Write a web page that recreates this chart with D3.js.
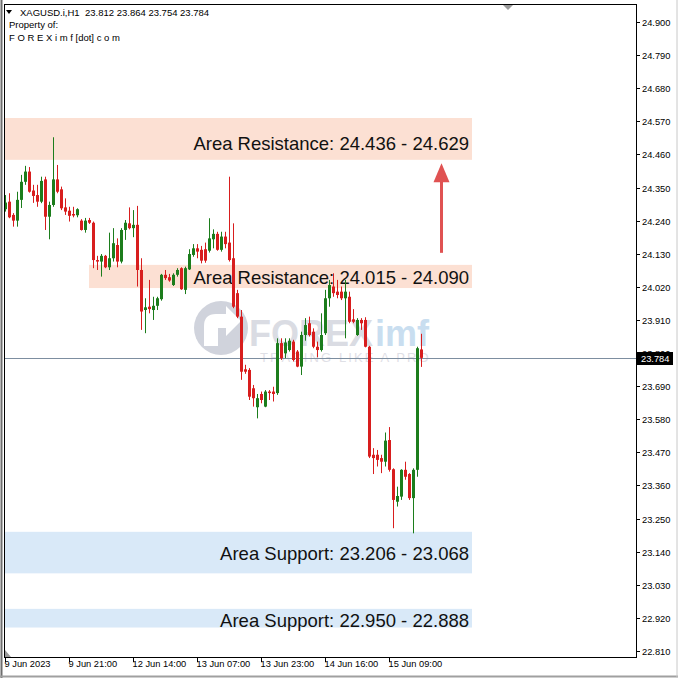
<!DOCTYPE html>
<html><head><meta charset="utf-8">
<script src="https://cdn.jsdelivr.net/npm/d3@7"></script>
<style>html,body{margin:0;padding:0;background:#fff;}svg{display:block;}</style>
</head><body>
<svg id="c" width="678" height="678"></svg>
<script>
// ---------- DATA ----------
const symbolName = "XAGUSD.i,H1";
const headerOHLC = "23.812 23.864 23.754 23.784";
const opens = [24.278,24.303,24.259,24.240,24.309,24.369,24.403,24.340,24.325,24.303,24.377,24.253,24.292,24.377,24.344,24.284,24.273,24.262,24.258,24.240,24.209,24.242,24.233,24.109,24.104,24.123,24.085,24.115,24.159,24.104,24.209,24.231,24.215,24.226,24.076,23.943,23.954,23.943,23.957,23.979,24.060,24.052,24.026,24.060,24.082,24.010,24.078,24.126,24.148,24.143,24.145,24.140,24.178,24.196,24.143,24.187,24.167,24.115,23.999,23.921,23.746,23.744,23.683,23.620,23.664,23.622,23.672,23.672,23.667,23.833,23.799,23.810,23.838,23.805,23.755,23.860,23.899,23.871,23.821,23.810,23.866,23.982,24.021,24.004,24.004,23.982,23.987,23.912,23.860,23.910,23.910,23.821,23.462,23.462,23.451,23.439,23.511,23.414,23.306,23.323,23.412,23.398,23.318,23.412,23.812];
const highs = [24.325,24.331,24.265,24.336,24.392,24.422,24.418,24.359,24.359,24.386,24.386,24.303,24.517,24.425,24.353,24.314,24.286,24.286,24.281,24.245,24.249,24.249,24.237,24.123,24.129,24.126,24.200,24.215,24.181,24.215,24.242,24.284,24.275,24.289,24.115,23.982,24.043,23.987,23.987,24.063,24.076,24.063,24.065,24.082,24.085,24.087,24.145,24.162,24.162,24.156,24.167,24.248,24.211,24.203,24.203,24.203,24.386,24.231,24.010,23.943,23.761,23.750,23.694,23.664,23.672,23.677,23.677,23.688,23.849,23.849,23.849,23.849,23.844,23.810,23.871,23.916,23.921,23.882,23.838,23.932,24.010,24.043,24.065,24.043,24.021,24.043,24.004,23.946,23.916,23.916,23.919,23.824,23.484,23.478,23.462,23.536,23.554,23.417,23.356,23.414,23.439,23.401,23.417,23.821,23.864];
const lows = [24.270,24.248,24.220,24.220,24.282,24.359,24.333,24.299,24.286,24.298,24.209,24.178,24.286,24.331,24.275,24.259,24.237,24.251,24.251,24.207,24.200,24.229,24.082,24.076,24.054,24.082,24.076,24.104,24.085,24.098,24.176,24.211,24.185,24.021,23.877,23.866,23.932,23.910,23.943,23.974,24.043,24.037,24.023,24.054,24.010,23.996,24.076,24.120,24.115,24.098,24.100,24.134,24.148,24.140,24.137,24.148,24.104,23.949,23.916,23.711,23.731,23.644,23.622,23.583,23.633,23.620,23.644,23.639,23.661,23.777,23.783,23.805,23.772,23.753,23.727,23.841,23.855,23.816,23.786,23.805,23.860,23.954,23.987,23.982,23.976,23.849,23.899,23.899,23.857,23.877,23.819,23.451,23.398,23.423,23.401,23.423,23.406,23.218,23.290,23.312,23.379,23.312,23.201,23.389,23.754];
const closes = [24.300,24.251,24.240,24.309,24.369,24.403,24.336,24.322,24.303,24.372,24.253,24.292,24.377,24.336,24.281,24.270,24.256,24.257,24.278,24.209,24.240,24.233,24.109,24.104,24.123,24.085,24.115,24.165,24.104,24.209,24.233,24.215,24.226,24.076,23.938,23.952,23.946,23.957,23.982,24.060,24.049,24.041,24.060,24.076,24.012,24.082,24.129,24.148,24.137,24.107,24.107,24.181,24.196,24.143,24.187,24.162,24.109,23.954,23.921,23.738,23.738,23.655,23.650,23.650,23.644,23.672,23.667,23.664,23.833,23.783,23.835,23.841,23.777,23.755,23.860,23.893,23.860,23.821,23.810,23.860,23.982,24.026,23.999,23.993,23.982,24.004,23.904,23.904,23.910,23.899,23.821,23.456,23.451,23.445,23.439,23.509,23.412,23.312,23.325,23.412,23.389,23.318,23.412,23.816,23.784];
const timeLabels = ["9 Jun 2023","9 Jun 21:00","12 Jun 14:00","13 Jun 07:00","13 Jun 23:00","14 Jun 16:00","15 Jun 09:00"];
const timeLabelBars = [0,16,32,48,64,80,96];
const priceTicks = ["24.900","24.790","24.680","24.570","24.460","24.350","24.240","24.130","24.020","23.910","23.800","23.690","23.580","23.470","23.360","23.250","23.140","23.030","22.920","22.810"];
const lastPrice = 23.784;
// zones: label, price top, price bottom, start bar, end bar, kind
const zoneLabels = ["Area Resistance: 24.436 - 24.629","Area Resistance: 24.015 - 24.090","Area Support: 23.206 - 23.068","Area Support: 22.950 - 22.888"];
const zoneTop = [24.581, 24.093, 23.206, 22.950];
const zoneBottom = [24.442, 24.016, 23.068, 22.888];
const zoneLabelPrice = [24.475, 24.030, 23.112, 22.891];
const zoneStart = [0, 21, 0, 0];
const zoneEnd = [116.75, 116.75, 116.75, 116.75];
const zoneKind = ["res","res","sup","sup"];
const arrowBar = 109, arrowFrom = 24.133, arrowTo = 24.431;

// ---------- CHART ----------
const svg = d3.select("#c");
const L = 4, R = 636, T = 4, B = 657;
const x = d3.scaleLinear().domain([0, 158]).range([5, 5 + 4*158]);
const y = d3.scaleLinear().domain([22.810, 24.900]).range([651, 22]);
const green = "#1c7d1c", red = "#d81e1e";
const hf = "Liberation Sans, Arial, sans-serif";

// outer window frame
svg.append("rect").attr("x",0).attr("y",0).attr("width",678).attr("height",678).attr("fill","#fff");
svg.append("line").attr("x1",1.5).attr("x2",1.5).attr("y1",0).attr("y2",678).attr("stroke","#6e6e6e").attr("stroke-width",2);
svg.append("line").attr("x1",0).attr("x2",678).attr("y1",676.5).attr("y2",676.5).attr("stroke","#a0a0a0").attr("stroke-width",2);
svg.append("line").attr("x1",677).attr("x2",677).attr("y1",0).attr("y2",678).attr("stroke","#c8c8c8").attr("stroke-width",1);

const clip = svg.append("defs").append("clipPath").attr("id","plot");
clip.append("rect").attr("x",L).attr("y",T).attr("width",R-L).attr("height",B-T);
const plot = svg.append("g").attr("clip-path","url(#plot)");

// zones
const zFill = {res:"#fce0d3", sup:"#d9e9f8"};
zoneLabels.forEach((lab,i)=>{
  plot.append("rect")
    .attr("x", x(zoneStart[i])).attr("width", x(zoneEnd[i]) - x(zoneStart[i]))
    .attr("y", y(zoneTop[i])).attr("height", y(zoneBottom[i]) - y(zoneTop[i]))
    .attr("fill", zFill[zoneKind[i]]);
});

// watermark
const wm = plot.append("g");
wm.append("circle").attr("cx",221).attr("cy",328).attr("r",27).attr("fill","#d0d3dc");
wm.append("path").attr("d","M204,346 L204,326 Q204,314 216,314 L226,314 L226,306 L241,321 L226,336 L226,328 L218,328 L218,346 Z").attr("fill","#ffffff");
wm.append("text").attr("x",249).attr("y",346).attr("font-family",hf).attr("font-weight","bold").attr("font-size",36).attr("fill","#dadce3").text("FOREX");
wm.append("text").attr("x",375).attr("y",346).attr("font-family",hf).attr("font-weight","bold").attr("font-size",36).attr("fill","#c9def0").text("imf");
wm.append("text").attr("x",260).attr("y",362).attr("font-family",hf).attr("font-size",13).attr("letter-spacing","2.1").attr("fill","#dfe0e6").text("TRADING LIKE A PRO");

// zone labels
zoneLabels.forEach((lab,i)=>{
  plot.append("text").attr("x", 469).attr("y", y(zoneLabelPrice[i]))
    .attr("text-anchor","end").attr("font-family",hf)
    .attr("font-size",18.5).attr("fill","#111").text(lab);
});

// current price line
plot.append("line").attr("x1",L).attr("x2",R).attr("y1",Math.round(y(lastPrice))+0.5).attr("y2",Math.round(y(lastPrice))+0.5)
  .attr("stroke","#7d8ea0").attr("stroke-width",1);

// candles
const data = opens.map((o,i)=>({i, o, h:highs[i], l:lows[i], c:closes[i]}));
const cg = plot.append("g");
cg.selectAll("line.w").data(data).join("line")
  .attr("x1", d=>x(d.i)+0.5).attr("x2", d=>x(d.i)+0.5)
  .attr("y1", d=>y(d.h)).attr("y2", d=>y(d.l))
  .attr("stroke", d=> d.c>=d.o ? green : red).attr("stroke-width",1);
cg.selectAll("rect.b").data(data).join("rect")
  .attr("x", d=>x(d.i)-1).attr("width",3)
  .attr("y", d=>y(Math.max(d.o,d.c))).attr("height", d=>Math.max(1, Math.abs(y(d.o)-y(d.c))))
  .attr("fill", d=> d.c>=d.o ? green : red);

// arrow
const ax = x(arrowBar)+0.5;
plot.append("line").attr("x1",ax).attr("x2",ax).attr("y1",y(arrowFrom)).attr("y2",y(arrowTo)+14)
  .attr("stroke","#e05252").attr("stroke-width",3);
plot.append("path").attr("d",`M${ax},${y(arrowTo)} L${ax-8},${y(arrowTo)+19} L${ax+8},${y(arrowTo)+19} Z`).attr("fill","#e05252");

// frame
svg.append("rect").attr("x",L+0.5).attr("y",T+0.5).attr("width",R-L).attr("height",B-T)
  .attr("fill","none").attr("stroke","#000").attr("stroke-width",1);

// top shift marker
svg.append("path").attr("d","M503,5 L513,5 L508,10 Z").attr("fill","#9a9a9a");
// bottom-left marker
svg.append("path").attr("d","M5,650 L5,657 L11,657 Z").attr("fill","#9a9a9a");

// header
svg.append("path").attr("d","M6,10 L12,10 L9,14 Z").attr("fill","#000");
svg.append("text").attr("x",20).attr("y",16).attr("font-family",hf).attr("font-size",9.5).attr("fill","#000").text(symbolName);
svg.append("text").attr("x",85).attr("y",16).attr("font-family",hf).attr("font-size",9.5).attr("fill","#000").text(headerOHLC);
svg.append("text").attr("x",9).attr("y",28).attr("font-family",hf).attr("font-size",9.5).attr("fill","#000").text("Property of:");
svg.append("text").attr("x",9).attr("y",41).attr("font-family",hf).attr("font-size",9.5).attr("fill","#000").text("F O R E X i m f [dot] c o m");

// right price axis
const ya = svg.append("g");
priceTicks.forEach(t=>{
  const yy = Math.round(y(+t))+0.5;
  ya.append("line").attr("x1",R).attr("x2",R+4).attr("y1",yy).attr("y2",yy).attr("stroke","#000");
  ya.append("text").attr("x",642).attr("y",yy+3.5).attr("font-family",hf).attr("font-size",9.3).attr("fill","#000").text(t);
});
// current price label
const ly = Math.round(y(lastPrice));
ya.append("rect").attr("x",637).attr("y",ly-6).attr("width",36).attr("height",13).attr("fill","#000");
ya.append("text").attr("x",641).attr("y",ly+4).attr("font-family",hf).attr("font-size",9.3).attr("fill","#fff").text(lastPrice.toFixed(3));

// time axis
const xa = svg.append("g");
timeLabels.forEach((t,k)=>{
  const xx = Math.round(x(timeLabelBars[k]))+0.5;
  xa.append("line").attr("x1",xx).attr("x2",xx).attr("y1",B).attr("y2",B+5).attr("stroke","#000");
  xa.append("text").attr("x",xx-1).attr("y",B+10).attr("font-family",hf).attr("font-size",9.3).attr("fill","#000").text(t);
});
</script>
</body></html>
